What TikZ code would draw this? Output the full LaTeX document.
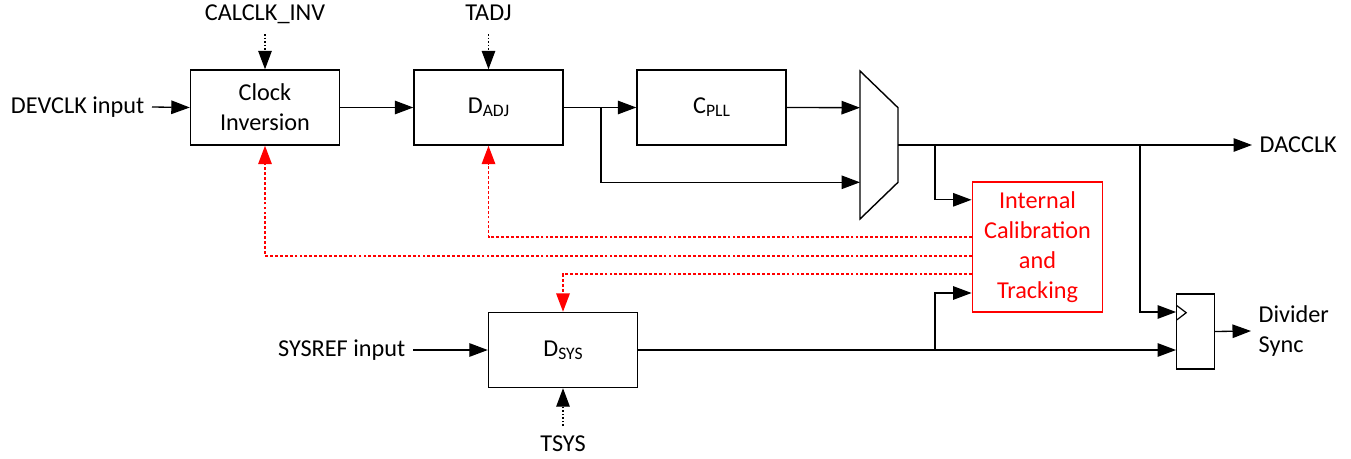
\documentclass[tikz,border=0pt]{standalone}
\usepackage{fontspec}
\setmainfont{Carlito}
\usetikzlibrary{arrows.meta,calc}
\newcommand{\lowsub}[1]{\raisebox{-0.25ex}{\fontsize{10}{12}\selectfont #1}}

\begin{document}
\begin{tikzpicture}[x=0.2mm, y=-0.2mm, line width=0.75pt,
    every node/.style={font=\fontsize{13.8}{17}\selectfont},
    blk/.style={shape=rectangle, draw, line width=0.8pt, minimum width=2.98cm, minimum height=1.5cm, align=center, inner sep=2pt},
    lbl/.style={inner sep=4pt, align=left},
    arr/.style={-{Triangle[length=0.37cm,width=0.27cm]}},
    ctl/.style={arr, dash pattern=on 1pt off 1pt},
    calline/.style={arr, red, line width=1pt, dash pattern=on 1.6pt off 1.2pt}]
            \useasboundingbox (0,0) rectangle (1351,458);
            % Paths, nodes and wires:
            \node[blk] (inv) at (265,107.5) {Clock\\Inversion};
            \node[blk] (adj) at (488.5,107.5) {D\lowsub{ADJ}};
            \node[blk] (pll) at (711.5,107.5) {C\lowsub{PLL}};
            \node[blk] (sys) at (563,350) {D\lowsub{SYS}};
            \node[blk, red, minimum width=2.61cm, minimum height=2.6cm] (cal) at (1037.5,247) {Internal\\Calibration\\and\\Tracking};
            \node[shape=rectangle, draw, line width=0.8pt, minimum width=0.75cm, minimum height=1.5cm, inner sep=0pt] (ff) at (1195.5,331.5) {};
            \draw[line width=0.8pt] (860,71) -- (898,107.7) -- (898,182.3) -- (860,219) -- cycle;
            \coordinate (mux-a) at (860,107.7);
            \coordinate (mux-b) at (860,182.3);
            \coordinate (mux-o) at (898,145);
            \draw[line width=0.7pt] (1176.7,305.5) -- (1186.2,312.7) -- (1176.7,320);
            \node[lbl, anchor=east] (devclk) at (152,107) {DEVCLK input};
            \node[lbl, anchor=east] (sysref) at (413,350) {SYSREF input};
            \node[lbl, anchor=west] (dacclk) at (1252,145) {DACCLK};
            \node[lbl, anchor=west] (divsync) at (1251,331) {Divider\\Sync};
            \node[inner sep=0pt, anchor=base] (calclk) at (265,20) {CALCLK\_INV};
            \node[inner sep=0pt, anchor=base] (tadj) at (488.5,20) {TADJ};
            \node[inner sep=0pt, anchor=base] (tsys) at (563,451) {TSYS};
            \coordinate (calclk-in) at (265,34);
            \coordinate (tadj-in) at (488.5,34);
            \coordinate (tsys-in) at (563,426);
            \coordinate (br1) at (601,107.5);
            \coordinate (br2) at (935,145);
            \coordinate (br3) at (1140,145);
            \coordinate (br4) at (935,350);
            \draw[arr] (devclk.east) -- (inv.west);
            \draw[arr] (inv.east) -- (adj.west);
            \draw[arr] (adj.east) -- (pll.west);
            \draw[arr] (br1) |- (mux-b);
            \draw[arr] (pll.east) -- (mux-a);
            \draw[arr] (mux-o) -- (dacclk.west);
            \draw[arr] (br2) |- ($(cal.north west)+(0,18.5)$);
            \draw[arr] (br3) |- ($(ff.north west)+(0,18.7)$);
            \draw[arr] (sysref.east) -- (sys.west);
            \draw[arr] (sys.east) -- (sys.east -| ff.west);
            \draw[arr] (br4) |- ($(cal.north west)+(0,111.7)$);
            \draw[arr] (ff.east) -- (divsync.west);
            \draw[ctl] (calclk-in) -- (inv.north);
            \draw[ctl] (tadj-in) -- (adj.north);
            \draw[ctl] (tsys-in) -- (sys.south);
            \draw[calline] ($(cal.north west)+(0,56)$) -| (adj.south);
            \draw[calline] ($(cal.north west)+(0,74.4)$) -| (inv.south);
            \draw[calline] ($(cal.north west)+(0,93)$) -| (sys.north);
        \end{tikzpicture}
\end{document}
